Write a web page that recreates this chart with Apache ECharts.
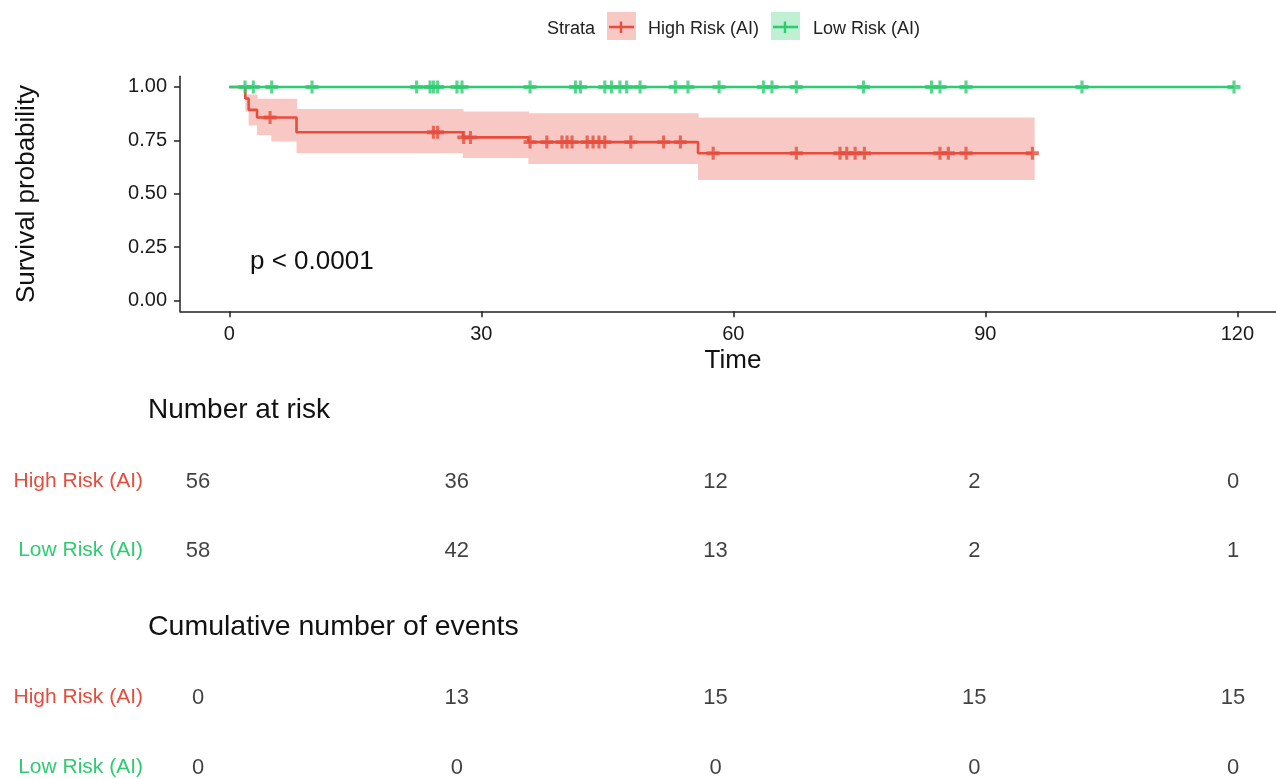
<!DOCTYPE html>
<html>
<head>
<meta charset="utf-8">
<script src="https://cdn.jsdelivr.net/npm/echarts@6/dist/echarts.min.js"></script>
<style>
html,body{margin:0;padding:0;background:#fff;}
#chart{width:1276px;height:779px;}
</style>
</head>
<body>
<div id="chart"></div>
<script>
// ---------- data ----------
var strata = ['High Risk (AI)', 'Low Risk (AI)'];
var xTicks = [0, 30, 60, 90, 120];
var yTicks = [0, 0.25, 0.5, 0.75, 1];

// High risk KM step curve
var highTimes = [0, 1.9, 2.3, 3.3, 8.0, 27.8, 35.6, 55.8, 95.6];
var highSurv  = [1, 0.946, 0.893, 0.857, 0.788, 0.764, 0.742, 0.690, 0.690];
// High risk confidence band (step starts, upper, lower); band ends at highBandEnd
var highBandStart = [1.9, 2.3, 3.3, 5.0, 8.0, 27.8, 35.6, 55.8];
var highUpper     = [0.965, 0.965, 0.945, 0.945, 0.897, 0.885, 0.877, 0.857];
var highLower     = [0.885, 0.820, 0.775, 0.745, 0.690, 0.667, 0.639, 0.565];
var highBandEnd = 95.8;
var highCensor = [4.85, 24.3, 24.8, 27.9, 28.7, 35.8, 37.8, 39.6, 40.2, 40.8, 42.6, 43.3, 44.0, 44.7,
                  47.8, 51.7, 53.7, 57.6, 67.5, 72.7, 73.5, 74.5, 75.6, 84.6, 85.6, 87.7, 95.6];

// Low risk KM curve (no events)
var lowTimes = [0, 119.6];
var lowSurv  = [1, 1];
var lowCensor = [1.87, 2.86, 5.05, 9.85, 22.3, 23.9, 24.3, 24.8, 27.1, 27.7, 35.8, 41.2, 41.8, 44.7,
                 45.5, 46.5, 47.3, 48.9, 53.1, 54.6, 58.3, 63.6, 64.6, 67.5, 75.5, 83.6, 84.6, 87.7,
                 101.5, 119.6];

// Risk tables
var tableTimes = [0, 30, 60, 90, 120];
var riskHigh = [56, 36, 12, 2, 0];
var riskLow  = [58, 42, 13, 2, 1];
var eventsHigh = [0, 13, 15, 15, 15];
var eventsLow  = [0, 0, 0, 0, 0];

var pText = 'p < 0.0001';

// ---------- styling ----------
var RED = '#E74C3C', GREEN = '#2ECC71';
var RED_FILL = '#F8C9C4', GREEN_FILL = '#C0F0D4';
var FONT = "'Liberation Sans', Arial, sans-serif";
var AXC = '#222222';

function stepData(ts, ss) { return ts.map(function (t, i) { return [t, ss[i]]; }); }
function survAt(ts, ss, t) {
  var v = ss[0];
  for (var i = 0; i < ts.length; i++) { if (ts[i] <= t) v = ss[i]; }
  return v;
}
function censorData(cs, ts, ss) { return cs.map(function (t) { return [t, survAt(ts, ss, t)]; }); }
var bandData = highBandStart.map(function (t, i) {
  var e = (i + 1 < highBandStart.length) ? highBandStart[i + 1] : highBandEnd;
  return [t, e, highLower[i], highUpper[i]];
});
function tableData(vals, row) { return tableTimes.map(function (t, i) { return [t, row, vals[i]]; }); }

var plusPath = 'path://M0,3.5H10V6.5H0ZM3.8,0H6.2V10H3.8Z';

var chart = echarts.init(document.getElementById('chart'), null, {renderer: 'canvas'});

function tableYAxis(idx) {
  return {
    gridIndex: idx, type: 'category', data: strata, inverse: true, boundaryGap: false,
    axisLine: {show: false}, axisTick: {show: false}, splitLine: {show: false},
    axisLabel: {fontSize: 21, margin: 55, fontFamily: FONT,
      color: function (v) { return v === strata[0] ? RED : GREEN; }}
  };
}
function tableSeries(idx, hi, lo) {
  return {
    type: 'scatter', xAxisIndex: idx, yAxisIndex: idx, silent: true,
    data: tableData(hi, strata[0]).concat(tableData(lo, strata[1])),
    symbolSize: 1, itemStyle: {color: 'transparent'},
    label: {show: true, position: 'inside', fontSize: 22, color: '#111', fontFamily: FONT,
      formatter: function (p) { return String(p.value[2]); }}
  };
}

var option = {
  animation: false,
  backgroundColor: '#fff',
  textStyle: {fontFamily: FONT},
  grid: [
    {left: 180, right: 0, top: 76.3, height: 235},
    {left: 198, width: 1035, top: 481.5, height: 69},
    {left: 198, width: 1035, top: 697.5, height: 70}
  ],
  xAxis: [
    {
      gridIndex: 0, type: 'value', min: -5.87, max: 124.6,
      axisLine: {show: true, onZero: false, lineStyle: {color: AXC, width: 1.5}},
      axisTick: {show: true, length: 6, lineStyle: {color: AXC, width: 1.5}, customValues: xTicks},
      axisLabel: {customValues: xTicks, fontSize: 20, color: '#1a1a1a', margin: 13, fontFamily: FONT},
      splitLine: {show: false}
    },
    {gridIndex: 1, type: 'value', min: 0, max: 120, show: false},
    {gridIndex: 2, type: 'value', min: 0, max: 120, show: false}
  ],
  yAxis: [
    {
      gridIndex: 0, type: 'value', min: -0.05, max: 1.05,
      axisLine: {show: true, onZero: false, lineStyle: {color: AXC, width: 1.5}},
      axisTick: {show: true, length: 6, lineStyle: {color: AXC, width: 1.5}, customValues: yTicks},
      axisLabel: {customValues: yTicks, fontSize: 20, color: '#1a1a1a', margin: 13, fontFamily: FONT,
        formatter: function (v) { return v.toFixed(2); }},
      splitLine: {show: false}
    },
    tableYAxis(1),
    tableYAxis(2)
  ],
  series: [
    {
      type: 'custom', xAxisIndex: 0, yAxisIndex: 0, silent: true, z: 1,
      data: bandData,
      encode: {x: [0, 1], y: [2, 3]},
      renderItem: function (params, api) {
        var p1 = api.coord([api.value(0), api.value(3)]);
        var p2 = api.coord([api.value(1), api.value(2)]);
        return {type: 'rect', shape: {x: p1[0], y: p1[1], width: p2[0] - p1[0] + 0.6, height: p2[1] - p1[1]},
          style: {fill: RED_FILL}};
      }
    },
    {
      name: strata[0], type: 'line', step: 'end', xAxisIndex: 0, yAxisIndex: 0, z: 3,
      data: stepData(highTimes, highSurv), showSymbol: false, symbol: 'none',
      lineStyle: {color: RED, width: 2.6}
    },
    {
      name: strata[1], type: 'line', step: 'end', xAxisIndex: 0, yAxisIndex: 0, z: 3,
      data: stepData(lowTimes, lowSurv), showSymbol: false, symbol: 'none',
      lineStyle: {color: GREEN, width: 2.6}
    },
    {
      type: 'scatter', xAxisIndex: 0, yAxisIndex: 0, z: 4, silent: true,
      data: censorData(highCensor, highTimes, highSurv),
      symbol: plusPath, symbolSize: [13, 13], itemStyle: {color: RED}
    },
    {
      type: 'scatter', xAxisIndex: 0, yAxisIndex: 0, z: 4, silent: true,
      data: censorData(lowCensor, lowTimes, lowSurv),
      symbol: plusPath, symbolSize: [13, 13], itemStyle: {color: GREEN}
    },
    tableSeries(1, riskHigh, riskLow),
    tableSeries(2, eventsHigh, eventsLow)
  ],
  graphic: [
    // legend
    {type: 'text', style: {text: 'Strata', x: 547, y: 29, font: '18px ' + FONT, fill: '#222', verticalAlign: 'middle'}},
    {type: 'rect', shape: {x: 607, y: 12, width: 29, height: 28}, style: {fill: RED_FILL}},
    {type: 'line', shape: {x1: 609, y1: 27, x2: 634, y2: 27}, style: {stroke: RED, lineWidth: 2.6}},
    {type: 'line', shape: {x1: 621, y1: 21.5, x2: 621, y2: 33}, style: {stroke: RED, lineWidth: 2.4}},
    {type: 'text', style: {text: strata[0], x: 648, y: 29, font: '18px ' + FONT, fill: '#222', verticalAlign: 'middle'}},
    {type: 'rect', shape: {x: 771, y: 12, width: 29, height: 28}, style: {fill: GREEN_FILL}},
    {type: 'line', shape: {x1: 773, y1: 27, x2: 798, y2: 27}, style: {stroke: GREEN, lineWidth: 2.6}},
    {type: 'line', shape: {x1: 785, y1: 21.5, x2: 785, y2: 33}, style: {stroke: GREEN, lineWidth: 2.4}},
    {type: 'text', style: {text: strata[1], x: 813, y: 29, font: '18px ' + FONT, fill: '#222', verticalAlign: 'middle'}},
    // axis titles
    {type: 'text', style: {text: 'Time', x: 733, y: 361, font: '26px ' + FONT, fill: '#111', align: 'center', verticalAlign: 'middle'}},
    {type: 'text', rotation: Math.PI / 2, x: 27, y: 194,
      style: {text: 'Survival probability', x: 0, y: 0, font: '26px ' + FONT, fill: '#111', align: 'center', verticalAlign: 'middle'}},
    // p value
    {type: 'text', style: {text: pText, x: 250, y: 262, font: '26px ' + FONT, fill: '#111', verticalAlign: 'middle'}},
    // table titles
    {type: 'text', style: {text: 'Number at risk', x: 148, y: 410, font: '28px ' + FONT, fill: '#111', verticalAlign: 'middle'}},
    {type: 'text', style: {text: 'Cumulative number of events', x: 148, y: 627, font: '28.5px ' + FONT, fill: '#111', verticalAlign: 'middle'}}
  ]
};
chart.setOption(option);
</script>
</body>
</html>
